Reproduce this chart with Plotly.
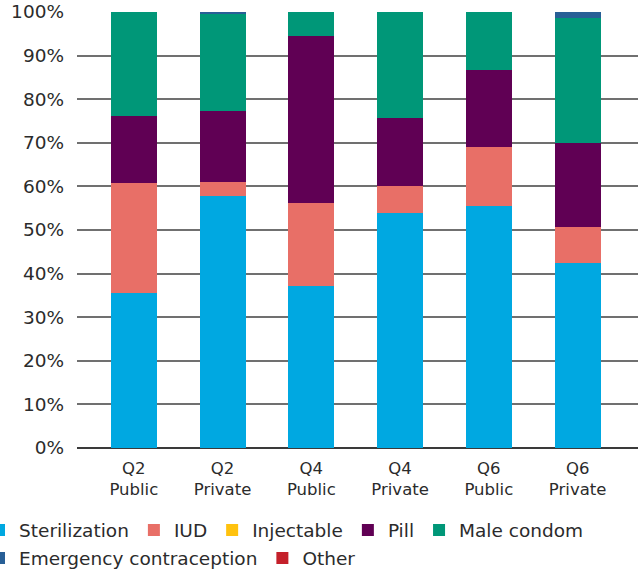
import plotly.graph_objects as go

# Survey round / sector categories
quarters = ["Q2", "Q2", "Q4", "Q4", "Q6", "Q6"]
sectors = ["Public", "Private", "Public", "Private", "Public", "Private"]
categories = [f"{q}<br>{s}" for q, s in zip(quarters, sectors)]

# Method mix (% of users), stacked bottom to top
sterilization = [35.6, 57.9, 37.2, 54.0, 55.6, 42.4]
iud = [25.2, 3.2, 19.1, 6.2, 13.4, 8.3]
injectable = [0, 0, 0, 0, 0, 0]
pill = [15.4, 16.3, 38.2, 15.5, 17.7, 19.3]
male_condom = [23.8, 22.3, 5.5, 24.3, 13.3, 28.7]
emergency = [0, 0.3, 0, 0, 0, 1.3]
other = [0, 0, 0, 0, 0, 0]

# name, values, colour, legend row
series = [
    ("Sterilization", sterilization, "#00A8E1", "legend"),
    ("IUD", iud, "#E86F67", "legend"),
    ("Injectable", injectable, "#FFC20E", "legend"),
    ("Pill", pill, "#600054", "legend"),
    ("Male condom", male_condom, "#009778", "legend"),
    ("Emergency contraception", emergency, "#285F96", "legend2"),
    ("Other", other, "#C4202A", "legend2"),
]

FONT = "DejaVu Sans"
TEXT = "#2b2b2b"

fig = go.Figure()
for name, vals, color, leg in series:
    fig.add_trace(go.Bar(
        x=categories, y=vals, name=name, legend=leg,
        marker=dict(color=color, line=dict(width=0)),
    ))

W, H = 638, 571
L, R, T, B = 77, 0, 12, 123
plot_w = W - L - R
plot_h = H - T - B


def px_x(px):
    return (px - L) / plot_w


def px_y(py):
    return (H - B - py) / plot_h


legend_common = dict(
    orientation="h",
    traceorder="normal",
    xanchor="left",
    yanchor="middle",
    font=dict(family=FONT, size=18.5, color=TEXT),
    bgcolor="rgba(0,0,0,0)",
    itemwidth=30,
)

fig.update_layout(
    width=W, height=H,
    margin=dict(l=L, r=R, t=T, b=B, pad=0, autoexpand=False),
    barmode="stack",
    bargap=0.48,
    plot_bgcolor="white",
    paper_bgcolor="white",
    font=dict(family=FONT, color=TEXT),
    showlegend=True,
    legend=dict(legend_common, x=px_x(-21), y=px_y(530.5)),
    legend2=dict(legend_common, x=px_x(-21), y=px_y(558.5)),
    xaxis=dict(
        range=[-0.64, 5.68],
        showgrid=False,
        showline=False,
        ticks="",
        tickfont=dict(family=FONT, size=16.5, color=TEXT),
        ticklabelstandoff=8,
        fixedrange=True,
    ),
    yaxis=dict(
        range=[0, 100],
        tickmode="linear",
        tick0=0,
        dtick=10,
        ticksuffix="%",
        showgrid=True,
        gridcolor="#707070",
        gridwidth=1.5,
        zeroline=True,
        zerolinecolor="#3a3a3a",
        zerolinewidth=2,
        showline=False,
        ticks="",
        tickfont=dict(family=FONT, size=18.5, color=TEXT),
        ticklabelstandoff=12,
        fixedrange=True,
    ),
)

fig.write_html("out.html")
